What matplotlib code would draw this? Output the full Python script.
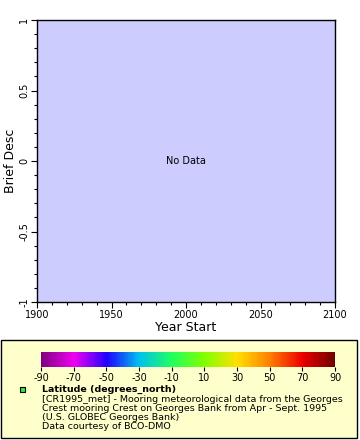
"""Empty ERDDAP-style graph: Year Start vs Brief Desc, no data, latitude colour bar legend."""
import numpy as np
import matplotlib
matplotlib.use("Agg")
import matplotlib.pyplot as plt
from matplotlib.colors import LinearSegmentedColormap, Normalize
from matplotlib.patches import Rectangle
from matplotlib.ticker import MultipleLocator
import matplotlib.colorbar as mcolorbar

plt.rcParams["axes.unicode_minus"] = False

# axis ranges and ticks
X_RANGE = [1900, 2100]
Y_RANGE = [-1, 1]
X_TICKS = [1900, 1950, 2000, 2050, 2100]
Y_TICKS = [-1, -0.5, 0, 0.5, 1]
Y_TICKLABELS = ["-1", "-0.5", "0", "0.5", "1"]

# colour bar (latitude)
CBAR_RANGE = [-90, 90]
CBAR_TICKS = [-90, -70, -50, -30, -10, 10, 30, 50, 70, 90]
CBAR_COLORS = ["#800080", "#f000f0", "#2000ff", "#00c0f0", "#20ff60",
               "#80ff00", "#ffe000", "#ff8000", "#ee0000", "#700000"]

LEGEND_LINES = [
    "[CR1995_met] - Mooring meteorological data from the Georges",
    "Crest mooring Crest on Georges Bank from Apr - Sept. 1995",
    "(U.S. GLOBEC Georges Bank)",
    "Data courtesy of BCO-DMO",
]
LEGEND_TITLE = "Latitude (degrees_north)"

W, H = 360, 440
fig = plt.figure(figsize=(W / 100, H / 100), dpi=100)
fig.patch.set_facecolor("white")


def fx(px):
    return px / W


def fy(py):
    return 1 - py / H


ax = fig.add_axes([fx(37), fy(302), fx(298), 282 / H])
ax.set_facecolor("#ccccff")
ax.set_xlim(X_RANGE)
ax.set_ylim(Y_RANGE)
ax.set_xticks(X_TICKS)
ax.set_yticks(Y_TICKS)
ax.set_yticklabels(Y_TICKLABELS, rotation=90, va="center")
ax.xaxis.set_minor_locator(MultipleLocator(10))
ax.yaxis.set_minor_locator(MultipleLocator(0.1))
ax.tick_params(which="major", length=4, width=0.8, labelsize=7, pad=1.5)
ax.tick_params(which="minor", length=2, width=0.8)
for s in ax.spines.values():
    s.set_linewidth(1)
ax.set_xlabel("Year Start", fontsize=9, labelpad=1)
ax.set_ylabel("Brief Desc", fontsize=9, labelpad=2)
ax.text(0.5, 0.5, "No Data", transform=ax.transAxes, ha="center", va="center",
        fontsize=7)

# legend box, drawn below the colour bar axes
fig.patches.append(Rectangle((fx(1), fy(438)), fx(356), 98 / H, transform=fig.transFigure,
                             facecolor="#ffffcc", edgecolor="black", linewidth=1,
                             zorder=-1))

cmap = LinearSegmentedColormap.from_list("rainbow_erd", CBAR_COLORS)
cax = fig.add_axes([fx(41), fy(367), fx(294), 15 / H])
cax.set_zorder(3)
cb = mcolorbar.ColorbarBase(cax, cmap=cmap, norm=Normalize(*CBAR_RANGE),
                            orientation="horizontal", ticks=CBAR_TICKS)
cb.outline.set_visible(False)
cax.tick_params(length=3, width=0.8, labelsize=7, pad=1)

fig.patches.append(Rectangle((fx(19.5), fy(391.5)), fx(5), 5 / H, transform=fig.transFigure,
                             facecolor="#33ee33", edgecolor="black", linewidth=0.8,
                             zorder=2))

fig.text(fx(42), fy(389), LEGEND_TITLE, fontsize=6.8, fontweight="bold",
         ha="left", va="center")
for i, line in enumerate(LEGEND_LINES):
    fig.text(fx(42), fy(399 + i * 9.3), line, fontsize=6.8, ha="left", va="center")

fig.savefig("out.png", dpi=100)
